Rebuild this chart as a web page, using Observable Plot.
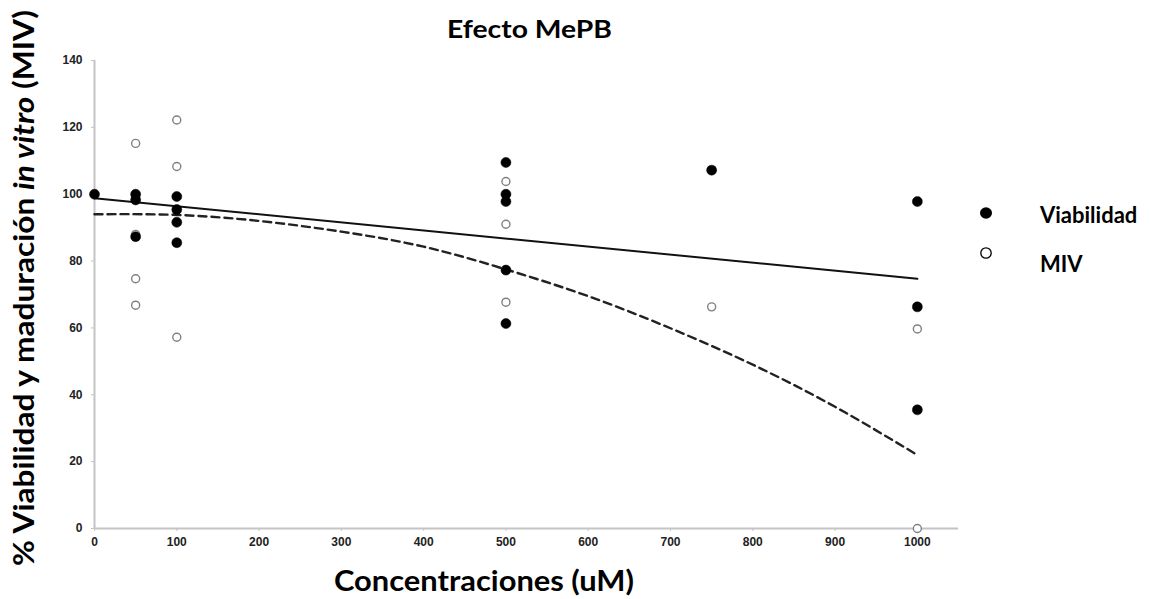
<!DOCTYPE html>
<html>
<head>
<meta charset="utf-8">
<script src="https://cdn.jsdelivr.net/npm/d3@7"></script>
<script src="https://cdn.jsdelivr.net/npm/@observablehq/plot@0.6"></script>
<style>
  html, body { margin: 0; padding: 0; background: #fff; }
  #wrap { position: relative; width: 1154px; height: 599px; overflow: hidden; }
  #overlay { position: absolute; left: 0; top: 0; pointer-events: none; }
</style>
</head>
<body>
<div id="wrap"></div>
<script>
// ---- data ----
const viabX = [0, 50, 50, 50, 100, 100, 100, 100, 500, 500, 500, 500, 500, 750, 1000, 1000, 1000];
const viabY = [100, 100, 98.3, 87.3, 99.3, 95.4, 91.6, 85.5, 109.5, 100, 97.8, 77.3, 61.3, 107.2, 97.8, 66.3, 35.5];

const mivX = [50, 50, 50, 50, 100, 100, 100, 500, 500, 500, 750, 1000, 1000];
const mivY = [115.2, 88, 74.7, 66.8, 122.2, 108.3, 57.2, 103.8, 91, 67.7, 66.3, 59.7, 0];

// trend lines
const fitViabX = [0, 1000];
const fitViabY = [98.8, 74.7];
const fitMivX = [0, 100, 200, 300, 400, 500, 600, 700, 800, 900, 1000];
const fitMivY = [94, 93.8, 92, 88.8, 84.3, 77.5, 69.5, 59.9, 49, 36.4, 22];

const xTicks = [0, 100, 200, 300, 400, 500, 600, 700, 800, 900, 1000];
const yTicks = [0, 20, 40, 60, 80, 100, 120, 140];

const titleText = "Efecto MePB";
const xLabel = "Concentraciones (uM)";
const legendItems = ["Viabilidad", "MIV"];

// ---- tables ----
const viab = viabX.map((x, i) => ({x, y: viabY[i]}));
const miv = mivX.map((x, i) => ({x, y: mivY[i]}));
const fitV = fitViabX.map((x, i) => ({x, y: fitViabY[i]}));
const fitM = fitMivX.map((x, i) => ({x, y: fitMivY[i]}));

const axisGray = "#c4c4c4";

const chart = Plot.plot({
  width: 1154,
  height: 599,
  marginLeft: 94,
  marginRight: 196,
  marginTop: 60,
  marginBottom: 71,
  style: {background: "#fff", fontFamily: "Arial, 'Liberation Sans', sans-serif"},
  x: {domain: [0, 1050], ticks: xTicks},
  y: {domain: [0, 140], ticks: yTicks},
  marks: [
    Plot.ruleY([0], {stroke: axisGray, strokeWidth: 2}),
    Plot.ruleX([0], {y1: 0, y2: 140, stroke: axisGray, strokeWidth: 2}),
    Plot.axisX({ticks: xTicks, tickFormat: d => String(d), tickSize: 3, tickPadding: 6, stroke: axisGray, fill: "#222",
      fontSize: 12, fontWeight: "bold", label: null}),
    Plot.axisY({ticks: yTicks, tickFormat: d => String(d), tickSize: 3, tickPadding: 9, stroke: axisGray, fill: "#222",
      fontSize: 12, fontWeight: "bold", label: null}),
    Plot.line(fitV, {x: "x", y: "y", stroke: "#111", strokeWidth: 2}),
    Plot.line(fitM, {x: "x", y: "y", stroke: "#222", strokeWidth: 2.4, strokeDasharray: "8,5", curve: "natural"}),
    Plot.dot(miv, {x: "x", y: "y", r: 4, fill: "#fff", stroke: "#808080", strokeWidth: 1.4}),
    Plot.dot(viab, {x: "x", y: "y", r: 5, fill: "#000", stroke: "#000", strokeWidth: 0.5})
  ]
});

const wrap = document.getElementById("wrap");
wrap.appendChild(chart);

// overlay with titles and legend
const ns = "http://www.w3.org/2000/svg";
const ov = d3.select(wrap).append("svg")
  .attr("id", "overlay").attr("width", 1154).attr("height", 599)
  .attr("xmlns", ns)
  .style("font-family", "Lato, 'Open Sans', sans-serif")
  .style("font-weight", "bold");

ov.append("text").attr("x", 447).attr("y", 38).attr("text-anchor", "start")
  .attr("font-size", 24).attr("textLength", 165).attr("lengthAdjust", "spacingAndGlyphs")
  .attr("fill", "#000").text(titleText);

ov.append("text").attr("x", 334).attr("y", 591).attr("text-anchor", "start")
  .attr("font-size", 28).attr("textLength", 300).attr("lengthAdjust", "spacingAndGlyphs")
  .attr("fill", "#000").text(xLabel);

const yl = ov.append("text").attr("transform", "translate(34,566) rotate(-90)")
  .attr("text-anchor", "start").attr("font-size", 29)
  .attr("textLength", 556).attr("lengthAdjust", "spacingAndGlyphs")
  .attr("fill", "#000");
yl.append("tspan").text("% Viabilidad y maduración ");
yl.append("tspan").attr("font-style", "italic").text("in vitro");
yl.append("tspan").text(" (MIV)");

// legend
ov.append("ellipse").attr("cx", 986).attr("cy", 213).attr("rx", 6).attr("ry", 5.8).attr("fill", "#000");
ov.append("circle").attr("cx", 986).attr("cy", 253).attr("r", 5.2).attr("fill", "#fff").attr("stroke", "#000").attr("stroke-width", 1.3);
ov.append("text").attr("x", 1040).attr("y", 223).attr("font-size", 22).attr("fill", "#000").text(legendItems[0]);
ov.append("text").attr("x", 1040).attr("y", 272).attr("font-size", 22).attr("fill", "#000").text(legendItems[1]);
</script>
</body>
</html>
